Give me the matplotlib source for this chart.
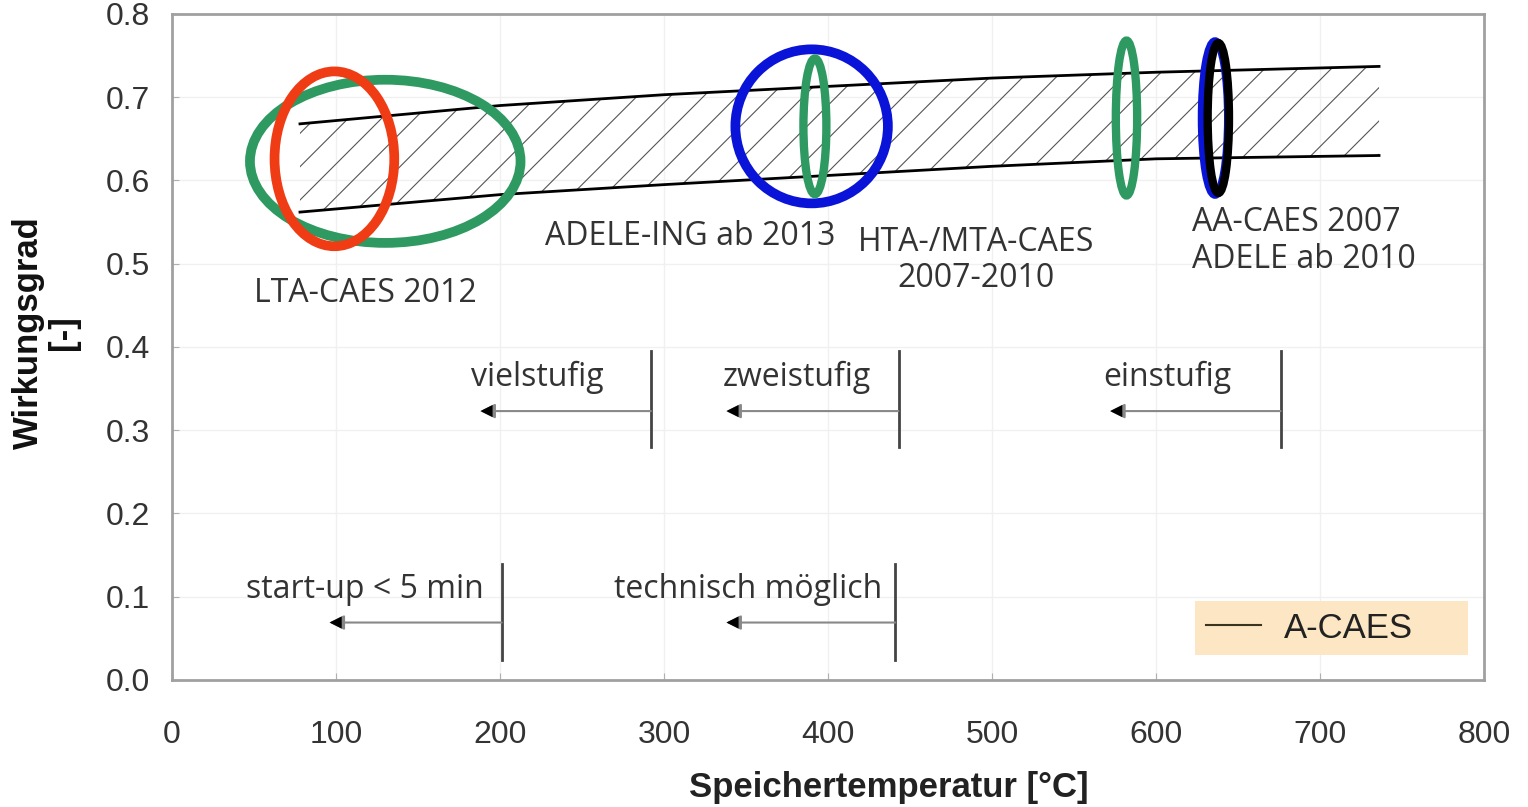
import matplotlib.pyplot as plt
from matplotlib.patches import Ellipse
import numpy as np

# Band of A-CAES efficiency (upper / lower bound)
band_temp = [78, 200, 300, 400, 500, 600, 736]
band_upper = [0.668, 0.690, 0.703, 0.713, 0.723, 0.730, 0.737]
band_lower = [0.562, 0.583, 0.595, 0.606, 0.617, 0.626, 0.630]

# ellipses: centre temp, centre eta, width (degC), height (-), colour
ell_temp = [130, 99, 390, 392, 582, 636, 638]
ell_eta = [0.623, 0.626, 0.665, 0.665, 0.675, 0.675, 0.675]
ell_w = [165, 73, 93, 14, 13, 16, 13]
ell_h = [0.196, 0.210, 0.185, 0.163, 0.186, 0.184, 0.180]
ell_col = ['#2e9960', '#f03c14', '#0a14d8', '#2e9960', '#2e9960', '#0a14d8', '#000000']

# project labels
proj_labels = ['LTA-CAES 2012', 'ADELE-ING ab 2013', 'HTA-/MTA-CAES\n2007-2010', 'AA-CAES 2007\nADELE ab 2010']
proj_temp = [118, 316, 490, 622]
proj_eta = [0.464, 0.533, 0.504, 0.527]
proj_ha = ['center', 'center', 'center', 'left']

# limits (vertical bar + arrow to the left)
lim_labels = ['vielstufig', 'zweistufig', 'einstufig', 'start-up < 5 min', 'technisch möglich']
lim_temp = [292, 443, 676, 201, 441]
lim_arrow_end = [188, 338, 572, 96, 338]
lim_text_x = [263, 426, 646, 190, 433]
lim_eta = [0.323, 0.323, 0.323, 0.069, 0.069]
lim_bar_lo = [0.280, 0.280, 0.280, 0.024, 0.024]
lim_bar_hi = [0.395, 0.395, 0.395, 0.139, 0.139]

plt.rcParams['hatch.linewidth'] = 0.8
plt.rcParams['hatch.color'] = '#555555'
arial = ['Liberation Sans', 'DejaVu Sans']

fig = plt.figure(figsize=(15.28, 8.07), dpi=100)
ax = fig.add_axes([0.1126, 0.1574, 0.8586, 0.8253])

ax.set_xlim(0, 800)
ax.set_ylim(0, 0.8)
ax.set_xticks(np.arange(0, 801, 100))
ax.set_yticks(np.arange(0, 0.81, 0.1))
ax.set_yticklabels(['%.1f' % v for v in np.arange(0, 0.81, 0.1)])
ax.grid(True, color='#f0f0f0', linewidth=1)
ax.set_axisbelow(True)
for s in ax.spines.values():
    s.set_color('#a0a0a0')
    s.set_linewidth(2)
ax.tick_params(direction='in', length=5, color='#b0b0b0', labelsize=23,
               labelcolor='#333333')
ax.tick_params(axis='x', pad=29)
ax.tick_params(axis='y', pad=16)
for lab in ax.get_xticklabels() + ax.get_yticklabels():
    lab.set_family(arial)

# band
ax.fill_between(band_temp, band_lower, band_upper, facecolor='none',
                edgecolor='#555555', hatch='/', linewidth=0)
ax.plot(band_temp, band_upper, color='black', lw=2, label='A-CAES')
ax.plot(band_temp, band_lower, color='black', lw=2)

# ellipses
for i in range(len(ell_temp)):
    lw = 7 if ell_w[i] > 30 else 6
    e = Ellipse((ell_temp[i], ell_eta[i]), ell_w[i], ell_h[i], fill=False,
                edgecolor=ell_col[i], linewidth=lw, zorder=3)
    ax.add_patch(e)

txtfont = dict(family=['Open Sans', 'DejaVu Sans'], fontsize=23, color='#333333')
for i in range(len(proj_labels)):
    ax.text(proj_temp[i], proj_eta[i], proj_labels[i], ha=proj_ha[i], va='center',
            linespacing=1.15, **txtfont)

for i in range(len(lim_labels)):
    ax.plot([lim_temp[i], lim_temp[i]], [lim_bar_lo[i], lim_bar_hi[i]], color='#444444', lw=2)
    ax.annotate('', xy=(lim_arrow_end[i], lim_eta[i]), xytext=(lim_temp[i], lim_eta[i]),
                arrowprops=dict(arrowstyle='-|>', color='#888888', lw=1.5,
                                mutation_scale=22, shrinkA=0, shrinkB=0))
    ax.annotate('', xy=(lim_arrow_end[i], lim_eta[i]), xytext=(lim_arrow_end[i] + 8, lim_eta[i]),
                arrowprops=dict(arrowstyle='-|>', color='black', lw=0,
                                mutation_scale=22, shrinkA=0, shrinkB=0))
    ax.text(lim_text_x[i], lim_eta[i] + 0.040, lim_labels[i], ha='right', va='center', **txtfont)

leg = ax.legend(loc='lower left', bbox_to_anchor=(0.78, 0.0375, 0.208, 0.09), mode='expand',
                prop={'family': arial, 'size': 25}, frameon=True, fancybox=False,
                borderpad=0.3, handlelength=1.6, handletextpad=0.65, borderaxespad=0)
leg.get_frame().set_facecolor('#fce6c4')
leg.get_frame().set_edgecolor('none')
leg.get_frame().set_alpha(1)
leg.get_lines()[0].set_color('#3a3520')
leg.get_lines()[0].set_linewidth(1.5)
for t in leg.get_texts():
    t.set_color('#222222')

fig.text(889 / 1528, 1 - 788 / 807, 'Speichertemperatur [°C]', ha='center', va='center',
         fontsize=25, fontweight='bold', family=arial, color='#222222')
fig.text(46 / 1528, 1 - 333 / 807, 'Wirkungsgrad\n[-]', ha='center', va='center', rotation=90,
         fontsize=25, fontweight='bold', family=arial, color='#111111', linespacing=1.1)

fig.savefig('out.png', dpi=100)
